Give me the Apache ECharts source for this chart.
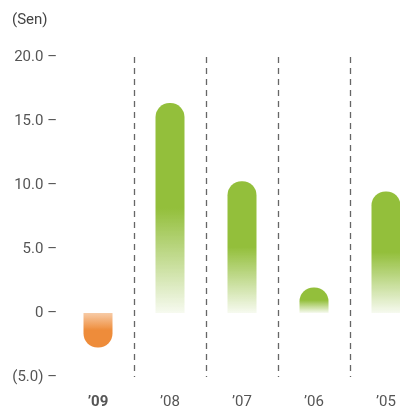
<!DOCTYPE html>
<html>
<head>
<meta charset="utf-8">
<script src="https://cdn.jsdelivr.net/npm/echarts@6/dist/echarts.min.js"></script>
<style>
  html, body { margin: 0; padding: 0; background: #fff; }
  #main { width: 400px; height: 411px; }
</style>
</head>
<body>
<div id="main"></div>
<script>
// data
var years = ['\u201909', '\u201908', '\u201907', '\u201906', '\u201905'];
var values = [-2.7, 16.4, 10.3, 2.0, 9.5];
var yTicks = { '20': '20.0', '15': '15.0', '10': '10.0', '5': '5.0', '0': '0', '-5': '(5.0)' };

var fontFam = 'Roboto, sans-serif';

var greenFill = new echarts.graphic.LinearGradient(0, 0, 0, 1, [
  { offset: 0, color: '#93bf3b' },
  { offset: 0.5, color: '#93bf3b' },
  { offset: 1, color: 'rgba(147,191,59,0.08)' }
]);
var orangeFill = new echarts.graphic.LinearGradient(0, 0, 0, 1, [
  { offset: 0, color: 'rgba(238,140,58,0.45)' },
  { offset: 0.5, color: '#ee8c3a' },
  { offset: 1, color: '#ee8c3a' }
]);

var chart = echarts.init(document.getElementById('main'));

var option = {
  animation: false,
  title: {
    text: '(Sen)',
    left: 7,
    top: 8,
    textStyle: { fontSize: 15, fontWeight: 'normal', color: '#444', fontFamily: fontFam }
  },
  grid: { left: 62, top: 57, width: 360, bottom: 34, outerBoundsMode: 'none', containLabel: false },
  xAxis: {
    type: 'category',
    data: years,
    axisLine: { show: false },
    axisTick: { show: false },
    axisLabel: {
      margin: 18,
      fontSize: 15,
      color: '#555',
      fontFamily: fontFam,
      formatter: function (v, i) {
        return i === 0 ? '{b|' + v + '}' : v;
      },
      rich: { b: { fontWeight: 'bold', fontSize: 15, color: '#555', fontFamily: fontFam } }
    },
    splitLine: {
      show: true,
      showMinLine: false,
      showMaxLine: false,
      lineStyle: { color: '#666', type: [6, 5], width: 1.3 }
    }
  },
  yAxis: {
    type: 'value',
    min: -5,
    max: 20,
    interval: 5,
    axisLine: { show: false },
    axisTick: { show: false },
    splitLine: { show: false },
    axisLabel: {
      margin: 5,
      fontSize: 15,
      color: '#555',
      fontFamily: fontFam,
      formatter: function (v) { return yTicks[String(v)] + ' \u2013'; }
    }
  },
  series: [{
    type: 'bar',
    barWidth: 29,
    data: values.map(function (v) {
      if (v < 0) {
        return { value: v, itemStyle: { color: orangeFill, borderRadius: [0, 0, 14, 14] } };
      }
      return { value: v, itemStyle: { color: greenFill, borderRadius: [14, 14, 0, 0] } };
    })
  }]
};

chart.setOption(option);
</script>
</body>
</html>
